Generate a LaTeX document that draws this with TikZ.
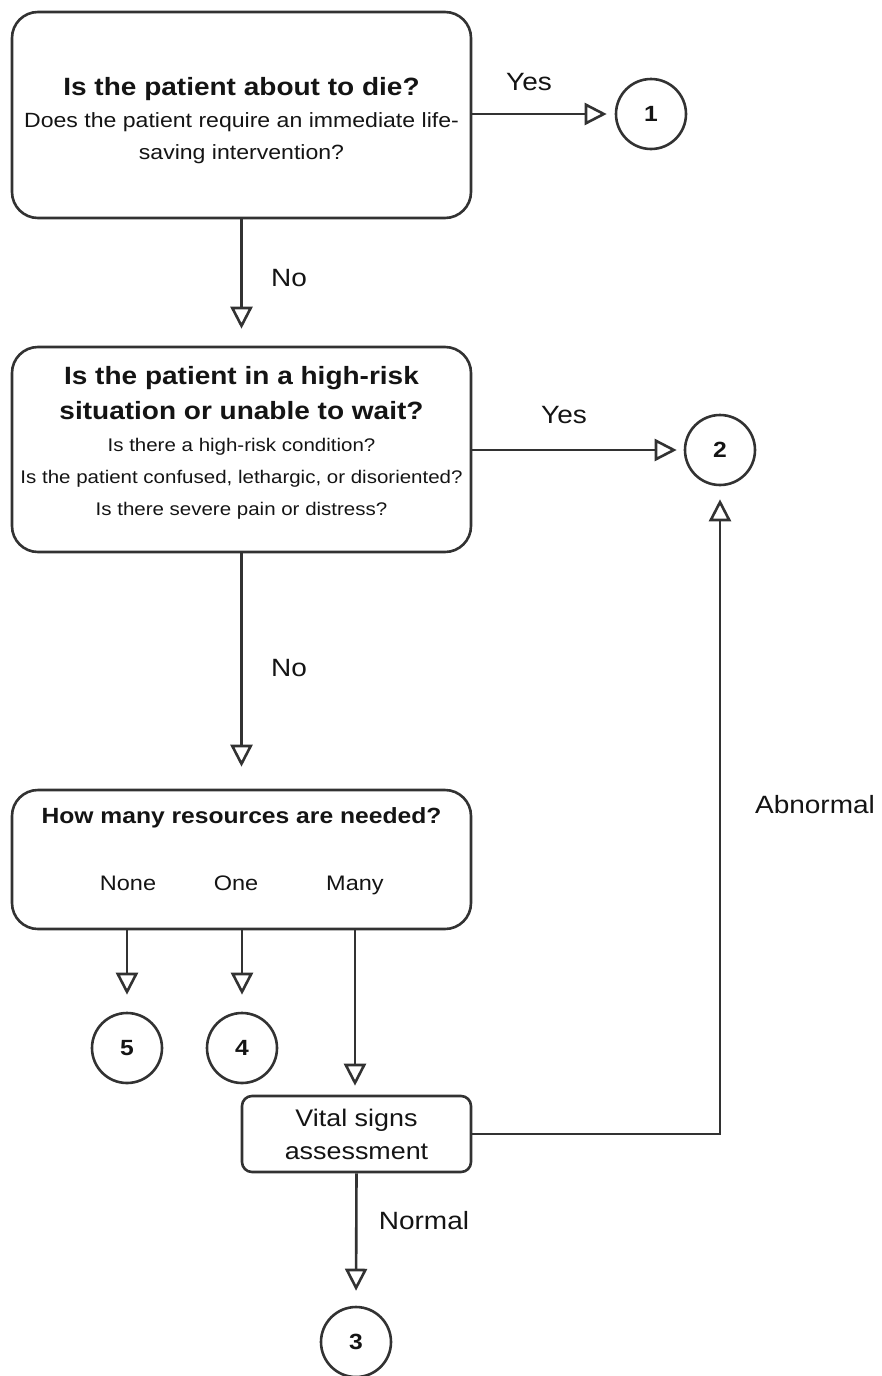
\documentclass[tikz,border=0pt]{standalone}
\usepackage{fontspec}
\setmainfont[FakeStretch=1.12]{Liberation Sans}
\usetikzlibrary{arrows.meta, positioning, calc}
\definecolor{esiline}{RGB}{50, 50, 50}
\definecolor{esitext}{RGB}{20, 20, 20}

\newcommand{\titlefont}{\fontsize{25}{33}\selectfont\bfseries}
\newcommand{\subfont}{\fontsize{20.6}{32}\selectfont\mdseries}
\newcommand{\smallfont}{\fontsize{18.3}{32}\selectfont\mdseries}

\tikzset{
  qbox/.style={draw=esiline, line width=2.6pt, rounded corners=26pt,
    minimum width=459pt, inner sep=0pt},
  qtext/.style={align=center, inner sep=0pt, text=esitext},
  endnum/.style={circle, draw=esiline, line width=2.6pt, minimum size=70pt,
    inner sep=0pt, text=esitext, font=\fontsize{22}{22}\selectfont\bfseries},
  flow/.style={-{Triangle[open, length=22pt, width=22pt]},
    line width=2.6pt, draw=esiline},
  lbl/.style={text=esitext, font=\fontsize{25}{25}\selectfont},
  optlbl/.style={anchor=base, text=esitext, font=\fontsize{21}{21}\selectfont}
}

\begin{document}
\begin{tikzpicture}[x=1pt, y=-1pt]
  \useasboundingbox (0,0) rectangle (882,1376);

  % --- question boxes ---
  \node[qbox, minimum height=206pt] (die) at (241.5,115) {};
  \node[qtext, font=\subfont] (dietxt) at (241.5,121)
    {{\titlefont Is the patient about to die?}\\
     {\subfont Does the patient require an immediate life-}\\
     {\subfont saving intervention?}};

  \node[qbox, minimum height=205pt] (risk) at (241.5,449.5) {};
  \node[qtext, font=\smallfont] (risktxt) at (241.5,443)
    {{\titlefont Is the patient in a high-risk}\\[3pt]
     {\titlefont situation or unable to wait?}\\
     {\smallfont Is there a high-risk condition?}\\
     {\smallfont Is the patient confused, lethargic, or disoriented?}\\
     {\smallfont Is there severe pain or distress?}};

  \node[qbox, minimum height=139pt] (res) at (241.5,859.5) {};
  \node[qtext, font=\fontsize{22}{22}\selectfont\bfseries] (resq)
    at (241.5,818) {How many resources are needed?};
  \node[optlbl] (none) at (128,890) {None};
  \node[optlbl] (one) at (236,890) {One};
  \node[optlbl] (many) at (355,890) {Many};

  \node[draw=esiline, line width=2.6pt, rounded corners=10pt, minimum width=229pt,
    minimum height=76pt, align=center, text=esitext,
    font=\fontsize{24}{33}\selectfont] (vital) at (356.5,1134)
    {Vital signs\\assessment};

  % --- outcome circles ---
  \node[endnum] (c1) at (651,114) {1};
  \node[endnum] (c2) at (720,450) {2};
  \node[endnum] (c3) at (356,1342) {3};
  \node[endnum] (c4) at (242,1048) {4};
  \node[endnum] (c5) at (127,1048) {5};

  % --- connectors ---
  \draw[flow, shorten >=8pt] (die.east |- c1) -- (c1.west);
  \draw[flow, shorten >=17pt] (die.south) -- (risk.north);
  \draw[flow, shorten >=7pt] (risk.east |- c2) -- (c2.west);
  \draw[flow, shorten >=22pt] (risk.south) -- (res.north);
  \draw[flow, shorten >=17pt] (c5 |- res.south) -- (c5.north);
  \draw[flow, shorten >=17pt] (c4 |- res.south) -- (c4.north);
  \draw[flow, shorten >=9pt] (many |- res.south) -- (many |- vital.north);
  \draw[flow, shorten >=13pt] (vital.east) -| (c2.south);
  \draw[flow, shorten >=15pt] (vital.south) -- (c3.north);

  % --- branch labels ---
  \node[lbl] (yes1) at (529,82) {Yes};
  \node[lbl] (no1) at (289,278) {No};
  \node[lbl] (yes2) at (564,415) {Yes};
  \node[lbl] (no2) at (289,668) {No};
  \node[lbl] (abn) at (815,805) {Abnormal};
  \node[lbl] (norm) at (424,1221) {Normal};

\end{tikzpicture}
\end{document}
